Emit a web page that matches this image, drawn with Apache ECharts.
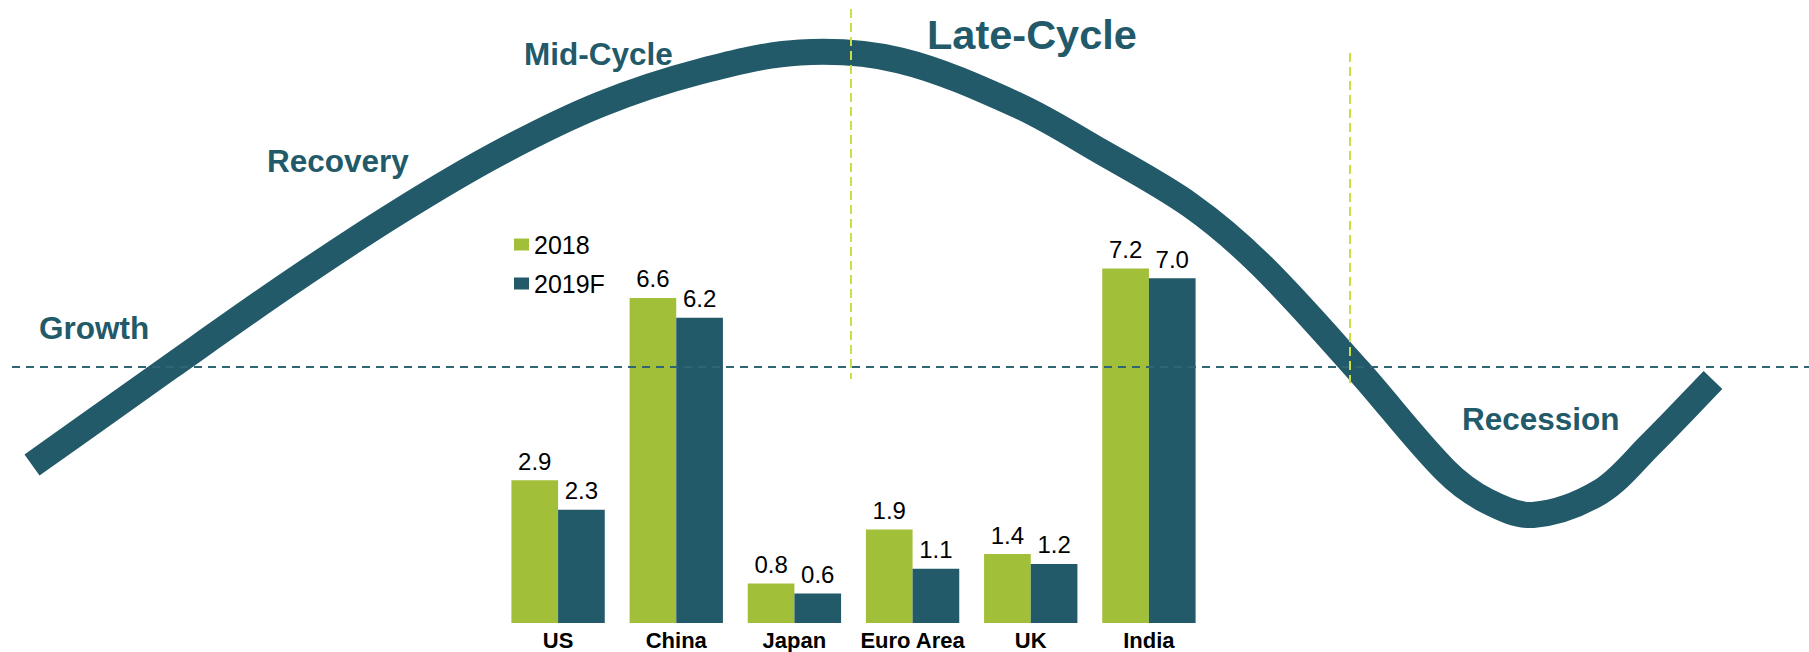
<!DOCTYPE html>
<html>
<head>
<meta charset="utf-8">
<title>GDP growth across the business cycle</title>
<script src="https://cdn.jsdelivr.net/npm/echarts@6/dist/echarts.min.js"></script>
<style>
  html, body { margin: 0; padding: 0; background: #ffffff; }
  #chart { width: 1809px; height: 652px; }
</style>
</head>
<body>
<div id="chart"></div>
<script>
// Real GDP growth, %
const countries = ['US', 'China', 'Japan', 'Euro Area', 'UK', 'India'];
const growth2018 = [2.9, 6.6, 0.8, 1.9, 1.4, 7.2];
const growth2019F = [2.3, 6.2, 0.6, 1.1, 1.2, 7.0];
const seriesNames = ['2018', '2019F'];

// Stylised business cycle: phase (horizontal) vs. activity level relative to trend (0)
const cyclePhase = [3.2, 17.0, 29.0, 40.0, 50.0, 60.0, 70.0, 80.0, 90.0, 101.7,
  110.0, 119.0, 126.0, 135.8, 144.5, 148.7, 153.3, 160.0, 165.0, 171.3];
const cycleLevel = [-9.8, 0.0, 8.4, 15.6, 21.45, 26.25, 29.55, 31.45, 30.65, 26.2,
  21.6, 16.2, 10.3, -0.3, -10.3, -13.4, -14.8, -12.5, -7.8, -1.3];

// Trend line and the phase boundaries marked on the cycle
const trendLevel = 0;
const trendSpan = [1.2, 180.9];
const boundaryPhase = [85.1, 135.0];
const boundaryTop = [35.8, 31.4];
const boundaryBottom = [-1.2, -1.6];

const stageNames = ['Growth', 'Recovery', 'Mid-Cycle', 'Late-Cycle', 'Recession'];

const TEAL = '#225a69';
const GREEN = '#a1bf38';
const LIME = '#cadf45';
const FONT = '"Liberation Sans", Arial, Helvetica, sans-serif';

const chart = echarts.init(document.getElementById('chart'), null, { renderer: 'svg' });

const cyclePoints = cyclePhase.map((p, i) => [p, cycleLevel[i]]);

// Smooth path through the projected cycle points (chord-length scaled tangents)
function smoothPath(pts) {
  const n = pts.length;
  const dist = (a, b) => Math.hypot(b[0] - a[0], b[1] - a[1]);
  const seg = [];
  for (let i = 0; i < n - 1; i++) seg.push(dist(pts[i], pts[i + 1]));
  const tan = pts.map((p, i) => {
    if (i === 0) return [(pts[1][0] - p[0]) / seg[0], (pts[1][1] - p[1]) / seg[0]];
    if (i === n - 1) return [(p[0] - pts[i - 1][0]) / seg[i - 1], (p[1] - pts[i - 1][1]) / seg[i - 1]];
    const d = seg[i - 1] + seg[i];
    return [(pts[i + 1][0] - pts[i - 1][0]) / d, (pts[i + 1][1] - pts[i - 1][1]) / d];
  });
  let d = 'M' + pts[0][0] + ' ' + pts[0][1];
  for (let i = 0; i < n - 1; i++) {
    const k = seg[i] / 3;
    const c1 = [pts[i][0] + tan[i][0] * k, pts[i][1] + tan[i][1] * k];
    const c2 = [pts[i + 1][0] - tan[i + 1][0] * k, pts[i + 1][1] - tan[i + 1][1] * k];
    d += ' C' + c1[0] + ' ' + c1[1] + ' ' + c2[0] + ' ' + c2[1] + ' ' + pts[i + 1][0] + ' ' + pts[i + 1][1];
  }
  return d;
}

const boundarySeries = boundaryPhase.map((p, i) => ({
  type: 'line',
  xAxisIndex: 1,
  yAxisIndex: 1,
  data: [[p, boundaryTop[i]], [p, boundaryBottom[i]]],
  symbol: 'none',
  silent: true,
  z: 6,
  lineStyle: { color: LIME, width: 2, type: [9, 5] }
}));

// text placement of the stage names: [left, vertical centre, font size]
const stageLayout = [
  [39, 328, 31.5],
  [267, 161, 31.5],
  [524, 54, 31.5],
  [927, 34, 41.5],
  [1462, 419, 31.5]
];

const stageText = stageNames.map((name, i) => ({
  type: 'text',
  x: stageLayout[i][0],
  y: stageLayout[i][1],
  z: 10,
  style: {
    text: name,
    fill: TEAL,
    fontFamily: FONT,
    fontWeight: 'bold',
    fontSize: stageLayout[i][2],
    align: 'left',
    verticalAlign: 'middle'
  }
}));

const valueLabel = {
  show: true,
  position: 'top',
  distance: 7,
  color: '#000000',
  fontFamily: FONT,
  fontSize: 24,
  formatter: (p) => p.value.toFixed(1)
};

chart.setOption({
  backgroundColor: '#ffffff',
  animation: false,
  textStyle: { fontFamily: FONT },
  grid: [
    { left: 499, right: 601, top: 229, bottom: 29 },
    { left: 0, right: 0, top: 0, bottom: 0 }
  ],
  legend: {
    data: seriesNames,
    orient: 'vertical',
    left: 514,
    top: 232,
    icon: 'rect',
    itemWidth: 15,
    itemHeight: 12,
    itemGap: 14,
    padding: 0,
    selectedMode: false,
    textStyle: { color: '#000000', fontFamily: FONT, fontSize: 25, padding: [0, 0, 0, 0] }
  },
  xAxis: [
    {
      type: 'category',
      gridIndex: 0,
      data: countries,
      axisLine: { show: false },
      axisTick: { show: false },
      splitLine: { show: false },
      axisLabel: {
        margin: 6,
        color: '#000000',
        fontFamily: FONT,
        fontWeight: 'bold',
        fontSize: 22,
        interval: 0
      }
    },
    { type: 'value', gridIndex: 1, min: 0, max: 180.9, show: false }
  ],
  yAxis: [
    { type: 'value', gridIndex: 0, min: 0, max: 8, show: false },
    { type: 'value', gridIndex: 1, min: -28.5, max: 36.7, show: false }
  ],
  series: [
    {
      name: 'cycle',
      type: 'custom',
      xAxisIndex: 1,
      yAxisIndex: 1,
      data: cyclePoints,
      silent: true,
      z: 1,
      renderItem: (params, api) => {
        if (params.dataIndex !== 0) return null;
        const pts = cyclePoints.map((p) => api.coord(p));
        return {
          type: 'path',
          silent: true,
          shape: { pathData: smoothPath(pts) },
          style: {
            fill: null,
            stroke: TEAL,
            lineWidth: 26,
            lineCap: 'butt',
            lineJoin: 'round'
          }
        };
      }
    },
    {
      name: seriesNames[0],
      type: 'bar',
      xAxisIndex: 0,
      yAxisIndex: 0,
      data: growth2018,
      barGap: '0%',
      barCategoryGap: '21%',
      z: 3,
      itemStyle: { color: GREEN },
      label: valueLabel
    },
    {
      name: seriesNames[1],
      type: 'bar',
      xAxisIndex: 0,
      yAxisIndex: 0,
      data: growth2019F,
      barGap: '0%',
      barCategoryGap: '21%',
      z: 3,
      itemStyle: { color: TEAL },
      label: valueLabel
    },
    {
      name: 'trend',
      type: 'line',
      xAxisIndex: 1,
      yAxisIndex: 1,
      data: trendSpan.map((p) => [p, trendLevel]),
      symbol: 'none',
      silent: true,
      z: 5,
      lineStyle: { color: '#2f6574', width: 2, type: [8, 6] }
    },
    ...boundarySeries
  ],
  graphic: stageText
});
</script>
</body>
</html>
